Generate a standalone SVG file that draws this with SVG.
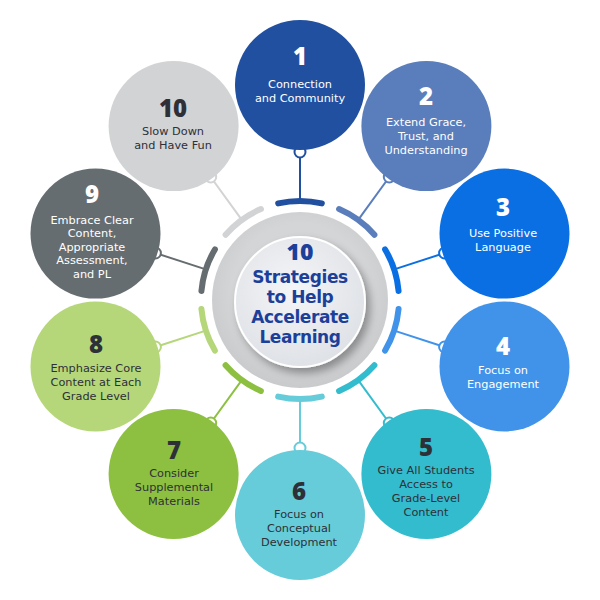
<svg xmlns="http://www.w3.org/2000/svg" width="600" height="600" viewBox="0 0 600 600">
<defs>
<radialGradient id="inner" cx="45%" cy="40%" r="65%">
<stop offset="0" stop-color="#f4f5f7"/>
<stop offset="1" stop-color="#dde0e5"/>
</radialGradient>
<radialGradient id="outer" cx="50%" cy="45%" r="55%">
<stop offset="0.7" stop-color="#d4d5d7"/>
<stop offset="1" stop-color="#c9cacc"/>
</radialGradient>
<filter id="sh" x="-30%" y="-30%" width="160%" height="160%">
<feGaussianBlur in="SourceAlpha" stdDeviation="4"/>
<feOffset dx="4" dy="5" result="b"/>
<feComponentTransfer><feFuncA type="linear" slope="0.35"/></feComponentTransfer>
<feMerge><feMergeNode/><feMergeNode in="SourceGraphic"/></feMerge>
</filter>
</defs>
<style>
.arc{fill:none;stroke-width:6;stroke-linecap:round;stroke-dasharray:44 578}
.con{stroke-width:2;fill:none}
.hook{fill:#fff;stroke-width:2}
.num{font-family:"Open Sans","Liberation Sans",sans-serif;font-weight:800;font-size:24px;text-anchor:middle}
.lbl{font-family:"DejaVu Sans","Liberation Sans",sans-serif;font-size:11.3px;text-anchor:middle}
.w{fill:#ffffff}
.d{fill:#2e3038}
.ctr{font-family:"DejaVu Sans","Liberation Sans",sans-serif;font-weight:700;font-size:17px;letter-spacing:-0.4px;fill:#1c3f9a;text-anchor:middle}
.ctrn{font-family:"Open Sans","Liberation Sans",sans-serif;font-weight:800;font-size:23px;fill:#1c3f9a;text-anchor:middle}
</style>

<g id="hub">
<circle cx="300" cy="300" r="88" fill="url(#outer)"/>
<circle cx="300" cy="302" r="65" fill="url(#inner)" stroke="#ffffff" stroke-width="2" filter="url(#sh)"/>
<text class="ctrn" x="300" y="259.5">10</text>
<text class="ctr" x="300" y="283">Strategies</text>
<text class="ctr" x="300" y="303">to Help</text>
<text class="ctr" x="300" y="323">Accelerate</text>
<text class="ctr" x="300" y="343">Learning</text>
</g>

<g id="connectors">
<circle class="arc" cx="300" cy="300" r="99" stroke="#2150a0" transform="rotate(-102.73 300 300)"/>
<circle class="arc" cx="300" cy="300" r="99" stroke="#5a7dbc" transform="rotate(-66.73 300 300)"/>
<circle class="arc" cx="300" cy="300" r="99" stroke="#0b6fe4" transform="rotate(-30.73 300 300)"/>
<circle class="arc" cx="300" cy="300" r="99" stroke="#4193ea" transform="rotate(5.27 300 300)"/>
<circle class="arc" cx="300" cy="300" r="99" stroke="#33bccd" transform="rotate(41.27 300 300)"/>
<circle class="arc" cx="300" cy="300" r="99" stroke="#66ccd9" transform="rotate(77.27 300 300)"/>
<circle class="arc" cx="300" cy="300" r="99" stroke="#8dc040" transform="rotate(113.27 300 300)"/>
<circle class="arc" cx="300" cy="300" r="99" stroke="#b5d77a" transform="rotate(149.27 300 300)"/>
<circle class="arc" cx="300" cy="300" r="99" stroke="#666d71" transform="rotate(185.27 300 300)"/>
<circle class="arc" cx="300" cy="300" r="99" stroke="#d2d3d5" transform="rotate(221.27 300 300)"/>

<line class="con" x1="300" y1="201" x2="300" y2="148" stroke="#2150a0"/>
<line class="con" x1="358.2" y1="219.9" x2="389.3" y2="177" stroke="#5a7dbc"/>
<line class="con" x1="394.2" y1="269.4" x2="444.6" y2="253" stroke="#0b6fe4"/>
<line class="con" x1="394.2" y1="330.6" x2="444.6" y2="347" stroke="#4193ea"/>
<line class="con" x1="358.2" y1="380.1" x2="389.3" y2="423" stroke="#33bccd"/>
<line class="con" x1="300" y1="399" x2="300" y2="452" stroke="#66ccd9"/>
<line class="con" x1="241.8" y1="380.1" x2="210.7" y2="423" stroke="#8dc040"/>
<line class="con" x1="205.8" y1="330.6" x2="155.4" y2="347" stroke="#b5d77a"/>
<line class="con" x1="205.8" y1="269.4" x2="155.4" y2="253" stroke="#666d71"/>
<line class="con" x1="241.8" y1="219.9" x2="210.7" y2="177" stroke="#d2d3d5"/>

<circle class="hook" cx="300" cy="152" r="5.5" stroke="#2150a0"/>
<circle class="hook" cx="389.3" cy="177" r="5.5" stroke="#5a7dbc"/>
<circle class="hook" cx="444.6" cy="253" r="5.5" stroke="#0b6fe4"/>
<circle class="hook" cx="444.6" cy="347" r="5.5" stroke="#4193ea"/>
<circle class="hook" cx="389.3" cy="423" r="5.5" stroke="#33bccd"/>
<circle class="hook" cx="300" cy="448" r="5.5" stroke="#66ccd9"/>
<circle class="hook" cx="210.7" cy="423" r="5.5" stroke="#8dc040"/>
<circle class="hook" cx="155.4" cy="347" r="5.5" stroke="#b5d77a"/>
<circle class="hook" cx="155.4" cy="253" r="5.5" stroke="#666d71"/>
<circle class="hook" cx="210.7" cy="177" r="5.5" stroke="#d2d3d5"/>
</g>

<g id="node1">
<circle cx="300" cy="85" r="65" fill="#2150a0"/>
<text class="num w" x="300" y="65">1</text>
<text class="lbl w" x="300" y="88">Connection</text>
<text class="lbl w" x="300" y="102">and Community</text>
</g>
<g id="node2">
<circle cx="426.4" cy="126.1" r="65" fill="#5a7dbc"/>
<text class="num w" x="426" y="105">2</text>
<text class="lbl w" x="426" y="126">Extend Grace,</text>
<text class="lbl w" x="426" y="140">Trust, and</text>
<text class="lbl w" x="426" y="154">Understanding</text>
</g>
<g id="node3">
<circle cx="504.5" cy="233.6" r="65" fill="#0b6fe4"/>
<text class="num w" x="503" y="216">3</text>
<text class="lbl w" x="503" y="237">Use Positive</text>
<text class="lbl w" x="503" y="251">Language</text>
</g>
<g id="node4">
<circle cx="504.5" cy="366.4" r="65" fill="#4193ea"/>
<text class="num w" x="503" y="355">4</text>
<text class="lbl w" x="503" y="374">Focus on</text>
<text class="lbl w" x="503" y="388">Engagement</text>
</g>
<g id="node5">
<circle cx="426.4" cy="473.9" r="65" fill="#33bccd"/>
<text class="num d" x="426" y="456">5</text>
<text class="lbl d" x="426" y="474">Give All Students</text>
<text class="lbl d" x="426" y="488">Access to</text>
<text class="lbl d" x="426" y="502">Grade-Level</text>
<text class="lbl d" x="426" y="516">Content</text>
</g>
<g id="node6">
<circle cx="300" cy="515" r="65" fill="#66ccd9"/>
<text class="num d" x="299" y="499.5">6</text>
<text class="lbl d" x="299" y="518">Focus on</text>
<text class="lbl d" x="299" y="532">Conceptual</text>
<text class="lbl d" x="299" y="546">Development</text>
</g>
<g id="node7">
<circle cx="173.6" cy="473.9" r="65" fill="#8dc040"/>
<text class="num d" x="174" y="458.5">7</text>
<text class="lbl d" x="174" y="477">Consider</text>
<text class="lbl d" x="174" y="491">Supplemental</text>
<text class="lbl d" x="174" y="505">Materials</text>
</g>
<g id="node8">
<circle cx="95.5" cy="366.4" r="65" fill="#b5d77a"/>
<text class="num d" x="96" y="353">8</text>
<text class="lbl d" x="96" y="372">Emphasize Core</text>
<text class="lbl d" x="96" y="386">Content at Each</text>
<text class="lbl d" x="96" y="400">Grade Level</text>
</g>
<g id="node9">
<circle cx="95.5" cy="233.6" r="65" fill="#666d71"/>
<text class="num w" x="92" y="203">9</text>
<text class="lbl w" x="92" y="223.5">Embrace Clear</text>
<text class="lbl w" x="92" y="237">Content,</text>
<text class="lbl w" x="92" y="250.5">Appropriate</text>
<text class="lbl w" x="92" y="264">Assessment,</text>
<text class="lbl w" x="92" y="277.5">and PL</text>
</g>
<g id="node10">
<circle cx="173.6" cy="126.1" r="65" fill="#d2d3d5"/>
<text class="num d" x="173" y="117">10</text>
<text class="lbl d" x="173" y="135">Slow Down</text>
<text class="lbl d" x="173" y="149">and Have Fun</text>
</g>
</svg>
